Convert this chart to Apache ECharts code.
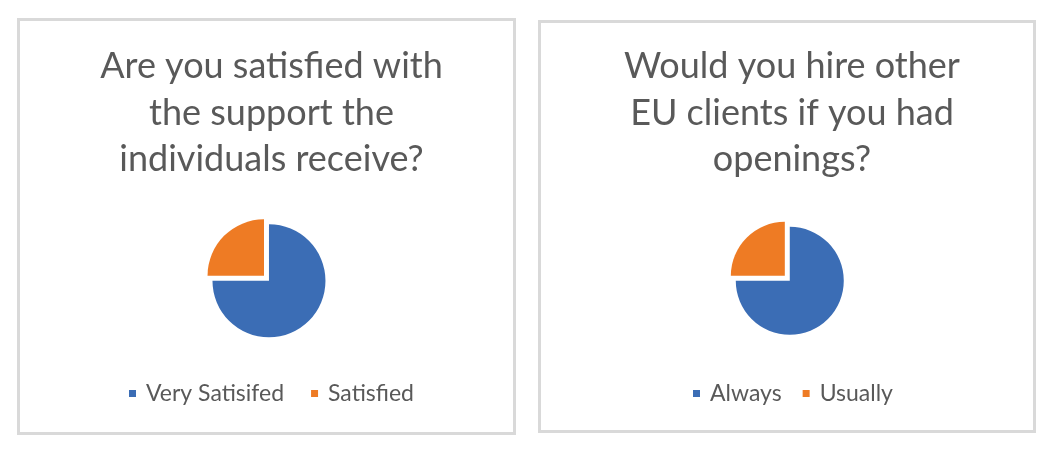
<!DOCTYPE html>
<html>
<head>
<meta charset="utf-8">
<script src="https://cdn.jsdelivr.net/npm/echarts@6/dist/echarts.min.js"></script>
<style>
html,body{margin:0;padding:0;background:#fff;}
#c{width:1054px;height:452px;}
</style>
</head>
<body>
<div id="c"></div>
<script>
// Data
var titleLeft = "Are you satisfied with\nthe support the\nindividuals receive?";
var titleRight = "Would you hire other\nEU clients if you had\nopenings?";
var categoriesLeft = ["Very Satisifed", "Satisfied"];
var valuesLeft = [75, 25];
var categoriesRight = ["Always", "Usually"];
var valuesRight = [75, 25];
var colors = ["#3b6db5", "#ee7b24"];

function pieData(cats, vals) {
  return cats.map(function (c, i) {
    return { name: c, value: vals[i], selected: true, itemStyle: { color: colors[i] } };
  });
}

var font = "Lato";
var chart = echarts.init(document.getElementById('c'), null, { renderer: 'canvas' });
var titleStyle = { fontFamily: font, fontSize: 36, fontWeight: 'normal', color: '#595959', lineHeight: 46.7 };
var legendText = { fontFamily: font, fontSize: 23, color: '#595959', padding: [0, 0, 0, 5] };

chart.setOption({
  animation: false,
  backgroundColor: '#ffffff',
  graphic: [
    { type: 'rect', shape: { x: 18.5, y: 19.5, width: 496, height: 414 }, style: { fill: 'none', stroke: '#d9d9d9', lineWidth: 3 }, silent: true },
    { type: 'rect', shape: { x: 539.5, y: 21.5, width: 495, height: 410 }, style: { fill: 'none', stroke: '#d9d9d9', lineWidth: 3 }, silent: true }
  ],
  title: [
    { text: titleLeft, left: 266.5, top: 38, textAlign: 'center', textStyle: titleStyle },
    { text: titleRight, left: 787, top: 38, textAlign: 'center', textStyle: titleStyle }
  ],
  legend: [
    { data: categoriesLeft, left: 124, top: 377, icon: 'rect', itemWidth: 7, itemHeight: 7, itemGap: 27, textStyle: legendText, selectedMode: false },
    { data: categoriesRight, left: 688, top: 377, icon: 'rect', itemWidth: 7, itemHeight: 7, itemGap: 21, textStyle: legendText, selectedMode: false }
  ],
  series: [
    {
      type: 'pie', center: [266.5, 278.3], radius: 56.5, startAngle: 90, clockwise: true,
      selectedMode: 'multiple', selectedOffset: 3.5, label: { show: false }, labelLine: { show: false },
      emphasis: { disabled: true }, silent: true,
      data: pieData(categoriesLeft, valuesLeft)
    },
    {
      type: 'pie', center: [787.3, 278.3], radius: 54, startAngle: 90, clockwise: true,
      selectedMode: 'multiple', selectedOffset: 3.5, label: { show: false }, labelLine: { show: false },
      emphasis: { disabled: true }, silent: true,
      data: pieData(categoriesRight, valuesRight)
    }
  ]
});
</script>
</body>
</html>
